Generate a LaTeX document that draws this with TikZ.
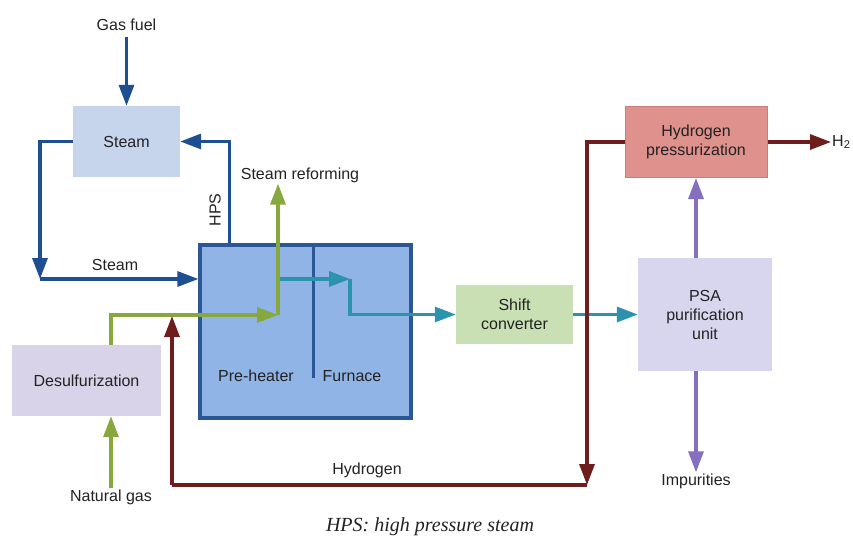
\documentclass[tikz,border=0pt]{standalone}
\usepackage{fontspec}
\setmainfont{Liberation Sans}
\newfontfamily\capfont{Liberation Serif}
\usetikzlibrary{arrows.meta,calc}
\definecolor{arblue}{HTML}{1D4F91}
\definecolor{steamfill}{HTML}{C6D4EC}
\definecolor{mainfill}{HTML}{90B4E6}
\definecolor{mainborder}{HTML}{2B5797}
\definecolor{argreen}{HTML}{86A83C}
\definecolor{arteal}{HTML}{2B93AD}
\definecolor{arred}{HTML}{6E1C1C}
\definecolor{arpurple}{HTML}{8570C0}
\definecolor{desfill}{HTML}{D9D3EA}
\definecolor{shiftfill}{HTML}{C9E0B5}
\definecolor{psafill}{HTML}{D8D5EE}
\definecolor{hpfill}{HTML}{DE918D}
\definecolor{hpborder}{HTML}{C97E7B}
\definecolor{txt}{HTML}{222222}
\tikzset{
  box/.style={draw=none, inner sep=0pt, align=center, font=\fontsize{16}{19}\selectfont, text=txt},
  lbl/.style={inner sep=1pt, align=center, font=\fontsize{16}{19}\selectfont, text=txt},
  conn/.style={line width=3.2pt, -{Triangle[length=21pt,width=15pt]}},
  plain/.style={line width=3.2pt},
}
\begin{document}
\begin{tikzpicture}[x=1pt,y=-1pt]
\useasboundingbox (0,0) rectangle (853,543);
% boxes
\node[box, fill=steamfill, minimum width=107pt, minimum height=71pt] (steam) at (126.5,141.5) {Steam};
\node[box, fill=mainfill, draw=mainborder, line width=3.2pt, minimum width=211pt, minimum height=173pt] (reformer) at (305.5,331.5) {};
\node[box, fill=desfill, minimum width=149pt, minimum height=71pt] (desulf) at (86.5,380.5) {Desulfurization};
\node[box, fill=shiftfill, minimum width=117pt, minimum height=59pt] (shift) at (514.5,314.5) {Shift\\converter};
\node[box, fill=psafill, minimum width=134pt, minimum height=113pt] (psa) at (705,314.5) {PSA\\purification\\unit};
\node[box, fill=hpfill, draw=hpborder, line width=1pt, minimum width=142pt, minimum height=71pt] (hp) at (696,142) {Hydrogen\\pressurization};
% divider in reformer
\coordinate (dv) at (313,378);
\draw[mainborder, line width=3pt] (dv |- reformer.north) -- (dv);
% labels
\node[lbl] (gasfuel) at (126.5,25) {Gas fuel};
\node[lbl] (steamlbl) at (115,265) {Steam};
\node[lbl, rotate=90] (hps) at (215,210) {HPS};
\node[lbl] (srlbl) at (300,175) {Steam reforming};
\node[lbl] (preh) at (256,376) {Pre-heater};
\node[lbl] (furn) at (352,376) {Furnace};
\node[lbl] (natgas) at (111,497) {Natural gas};
\node[lbl] (hyd) at (367,470) {Hydrogen};
\node[lbl] (imp) at (696,481) {Impurities};
\node[lbl, anchor=west] (h2) at (831,142) {H\textsubscript{2}};
\node[inner sep=0pt, font=\capfont\itshape\fontsize{20}{24}\selectfont, text=txt] (cap) at (430,527) {HPS: high pressure steam};
% blue steam flows
\draw[conn, arblue] (gasfuel.south) ++(0,5) -- (steam.north);
\draw[conn, arblue] ($(reformer.north west)+(31,0)$) |- (steam.east);
\coordinate (sl) at (40,279);
\draw[conn, arblue] (steam.west) -| (sl);
\draw[conn, arblue] (sl) -- (sl -| reformer.west);
% green natural gas flow
\coordinate (g0) at (111,345);
\coordinate (g1) at (278,315);
\draw[conn, argreen] (natgas.north) -- (g0 |- desulf.south);
\draw[conn, argreen] (g0 |- desulf.north) |- (g1);
\draw[conn, argreen] (g1) -- (g1 |- srlbl.south);
% teal process flow
\coordinate (t1) at (280,279);
\coordinate (t2) at (350,279);
\draw[conn, arteal] (t1) -- (t2);
\draw[conn, arteal] (t2) |- (shift.west);
\draw[conn, arteal] (shift.east) -- (psa.west);
% purple
\draw[conn, arpurple] (hp.south |- psa.north) -- (hp.south);
\draw[conn, arpurple] (hp.south |- psa.south) -- (imp.north);
% H2 out
\draw[conn, arred] (hp.east) -- (h2.west);
% hydrogen recycle
\coordinate (r1) at (587,485);
\coordinate (r2) at (172,485);
\coordinate (r3) at (172,316);
\draw[conn, arred] (hp.west) -| (r1);
\draw[plain, arred] (r1) -- (r2);
\draw[conn, arred] (r2) -- (r3);
\end{tikzpicture}
\end{document}
